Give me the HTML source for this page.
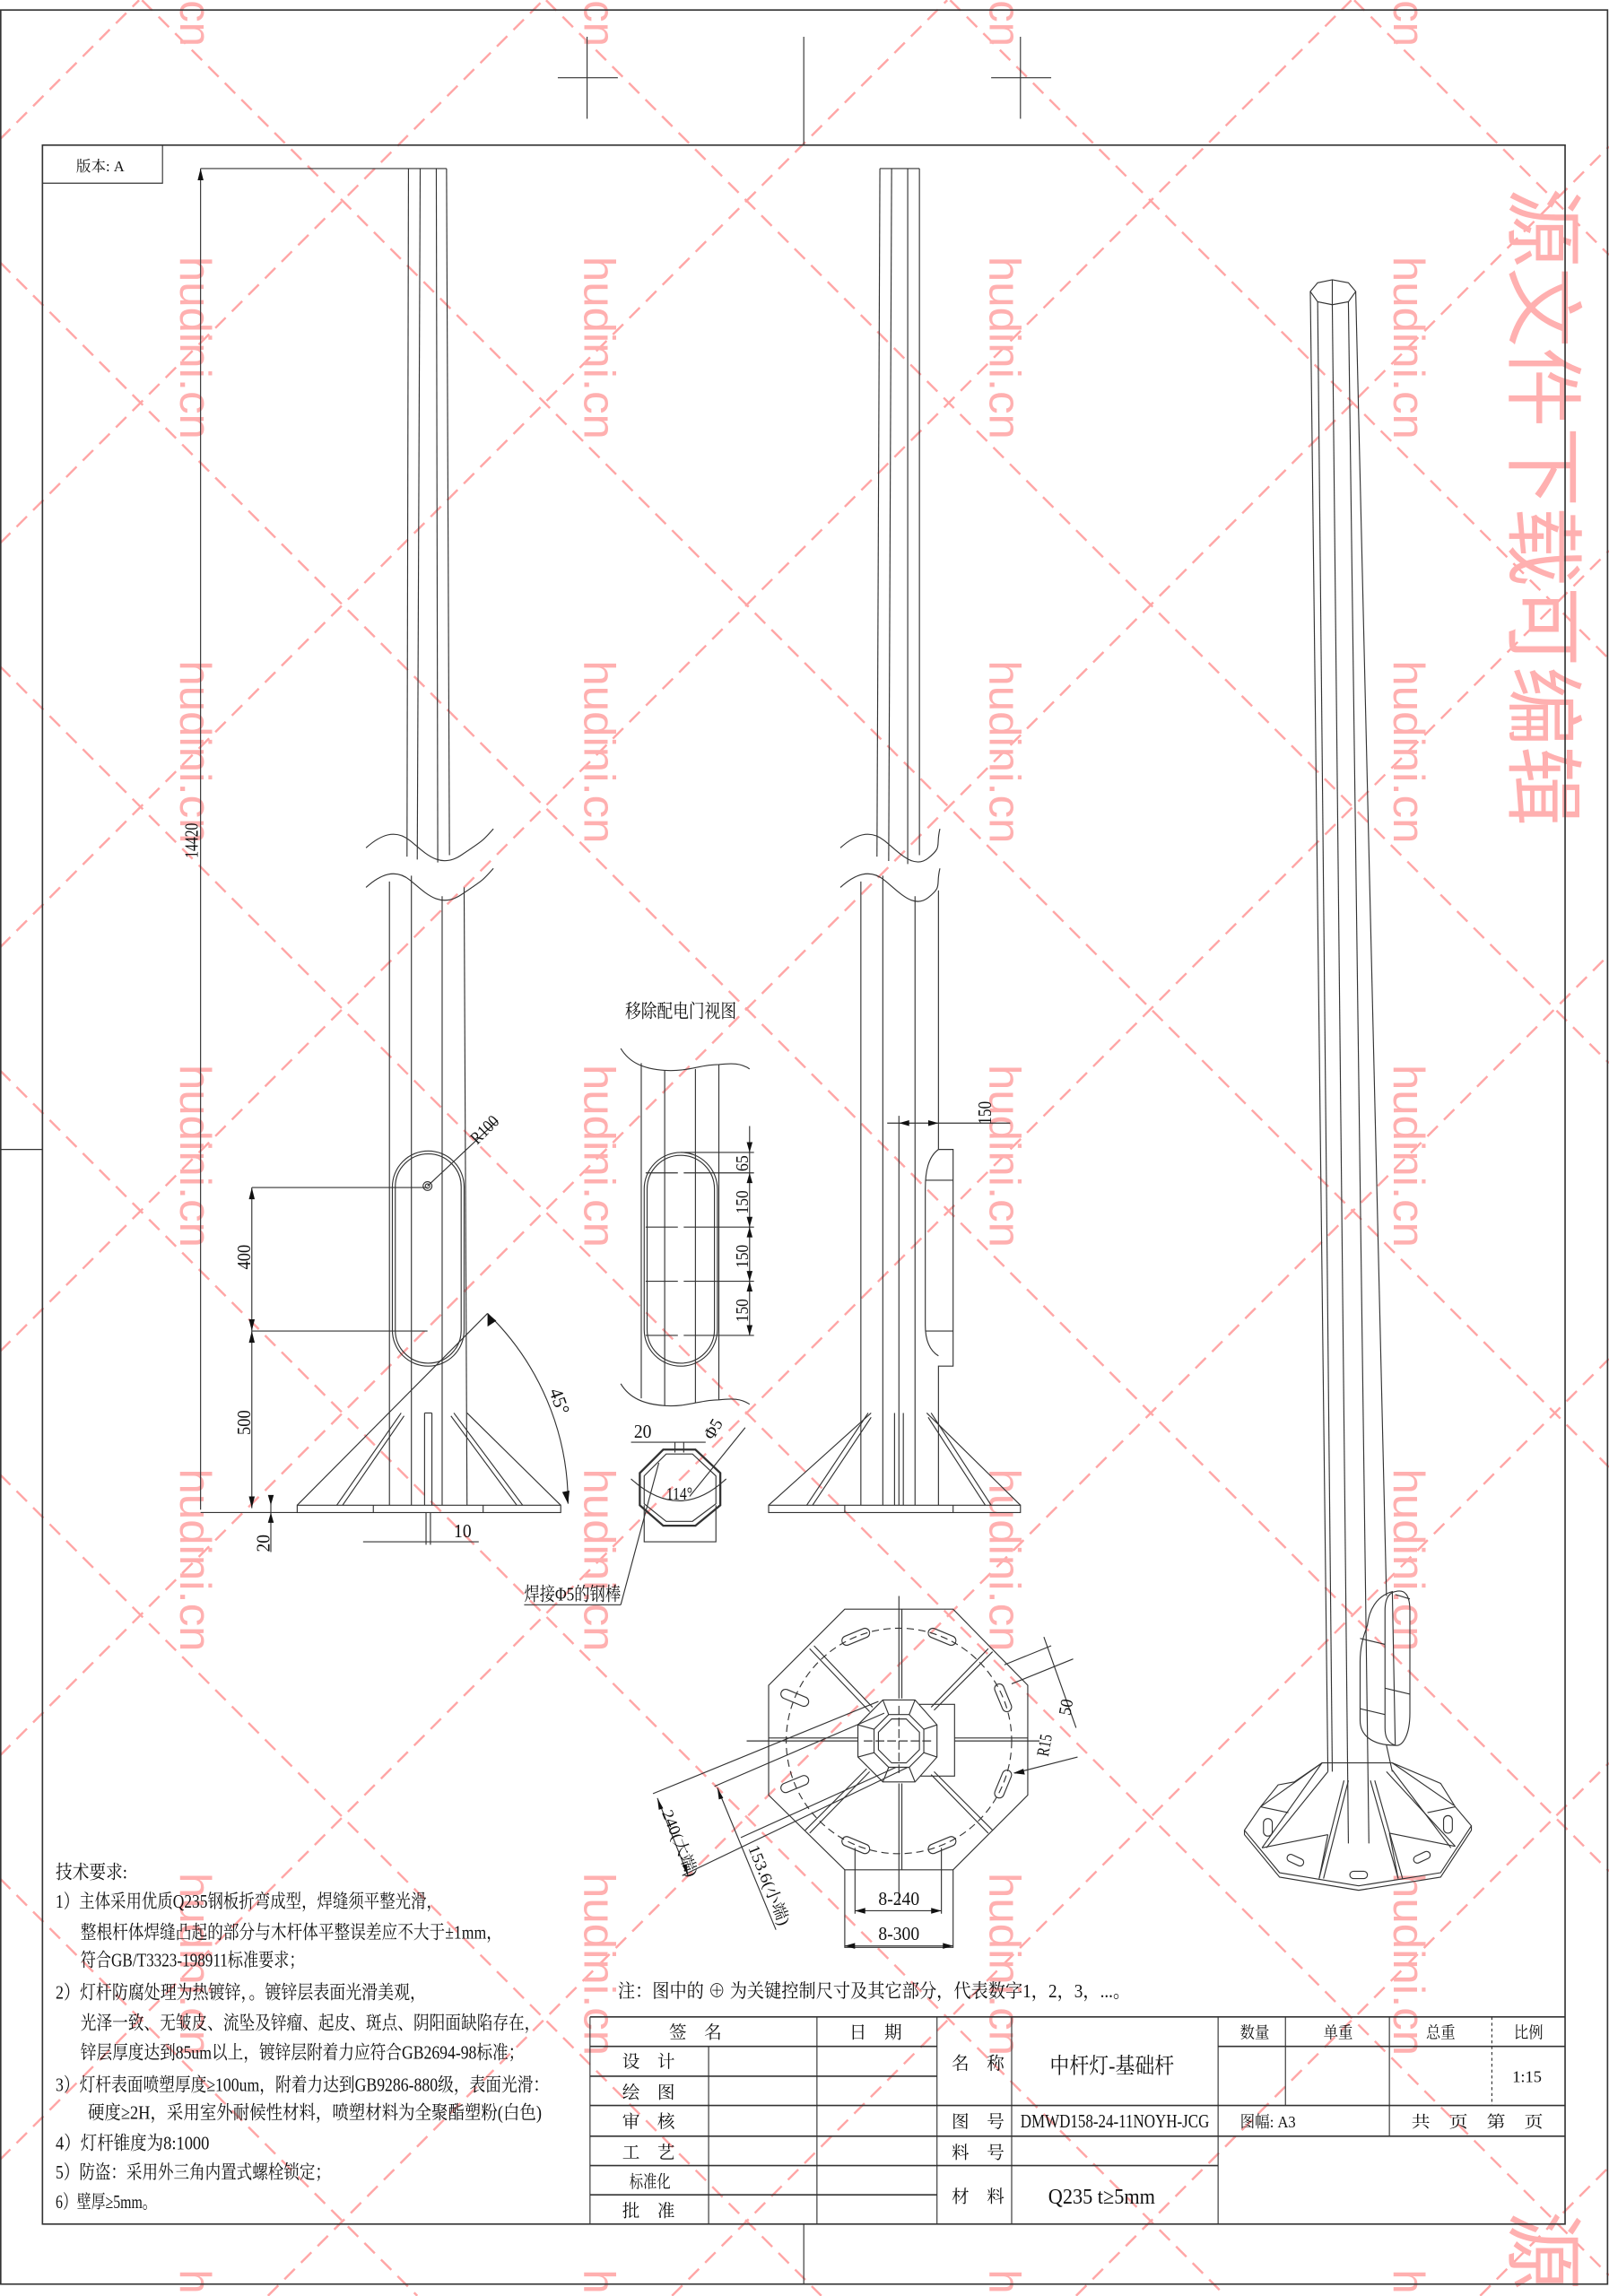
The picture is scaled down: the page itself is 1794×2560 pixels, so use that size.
<!DOCTYPE html>
<html><head><meta charset="utf-8"><style>
html,body{margin:0;padding:0;background:#fff;width:1794px;height:2560px;overflow:hidden;}
svg{display:block;}
.l{stroke:#333;stroke-width:0.7;fill:none;}
.t{font-family:"Liberation Serif","Noto Serif CJK SC",serif;fill:#111;}
.wm{stroke:#ffa6a6;stroke-width:1.5;stroke-dasharray:10 6;fill:none;}
.wt{font-family:"Liberation Sans",sans-serif;fill:#ffb0b0;font-size:30px;}
.bw{font-family:"Liberation Sans","Noto Sans CJK SC",sans-serif;fill:#ffb0b0;font-size:54px;}
</style></head><body>
<svg width="1794" height="2560" viewBox="0 0 1099 1568" xmlns="http://www.w3.org/2000/svg">
<rect width="1099" height="1568" fill="#fff"/>
<g class="wm">
<line x1="925" y1="0" x2="1099" y2="174"/><line x1="649" y1="0" x2="1099" y2="450"/><line x1="373" y1="0" x2="1099" y2="726"/><line x1="97" y1="0" x2="1099" y2="1002"/><line x1="0" y1="179" x2="1099" y2="1278"/><line x1="0" y1="455" x2="1099" y2="1554"/><line x1="0" y1="731" x2="837" y2="1568"/><line x1="0" y1="1007" x2="561" y2="1568"/><line x1="0" y1="1283" x2="285" y2="1568"/>
<line x1="0" y1="95" x2="95" y2="0"/><line x1="0" y1="371" x2="371" y2="0"/><line x1="0" y1="647" x2="647" y2="0"/><line x1="0" y1="923" x2="923" y2="0"/><line x1="0" y1="1199" x2="1099" y2="100"/><line x1="0" y1="1475" x2="1099" y2="376"/><line x1="183" y1="1568" x2="1099" y2="652"/><line x1="459" y1="1568" x2="1099" y2="928"/><line x1="735" y1="1568" x2="1099" y2="1204"/><line x1="1011" y1="1568" x2="1099" y2="1480"/>
</g>
<g class="wt">
<text transform="translate(123,0) rotate(90)">cn</text>
<text transform="translate(123,175) rotate(90)" textLength="125" lengthAdjust="spacingAndGlyphs">hudini.cn</text>
<text transform="translate(123,451) rotate(90)" textLength="125" lengthAdjust="spacingAndGlyphs">hudini.cn</text>
<text transform="translate(123,727) rotate(90)" textLength="125" lengthAdjust="spacingAndGlyphs">hudini.cn</text>
<text transform="translate(123,1003) rotate(90)" textLength="125" lengthAdjust="spacingAndGlyphs">hudini.cn</text>
<text transform="translate(123,1279) rotate(90)" textLength="125" lengthAdjust="spacingAndGlyphs">hudini.cn</text>
<text transform="translate(123,1550) rotate(90)">h</text>
<text transform="translate(399,0) rotate(90)">cn</text>
<text transform="translate(399,175) rotate(90)" textLength="125" lengthAdjust="spacingAndGlyphs">hudini.cn</text>
<text transform="translate(399,451) rotate(90)" textLength="125" lengthAdjust="spacingAndGlyphs">hudini.cn</text>
<text transform="translate(399,727) rotate(90)" textLength="125" lengthAdjust="spacingAndGlyphs">hudini.cn</text>
<text transform="translate(399,1003) rotate(90)" textLength="125" lengthAdjust="spacingAndGlyphs">hudini.cn</text>
<text transform="translate(399,1279) rotate(90)" textLength="125" lengthAdjust="spacingAndGlyphs">hudini.cn</text>
<text transform="translate(399,1550) rotate(90)">h</text>
<text transform="translate(676,0) rotate(90)">cn</text>
<text transform="translate(676,175) rotate(90)" textLength="125" lengthAdjust="spacingAndGlyphs">hudini.cn</text>
<text transform="translate(676,451) rotate(90)" textLength="125" lengthAdjust="spacingAndGlyphs">hudini.cn</text>
<text transform="translate(676,727) rotate(90)" textLength="125" lengthAdjust="spacingAndGlyphs">hudini.cn</text>
<text transform="translate(676,1003) rotate(90)" textLength="125" lengthAdjust="spacingAndGlyphs">hudini.cn</text>
<text transform="translate(676,1279) rotate(90)" textLength="125" lengthAdjust="spacingAndGlyphs">hudini.cn</text>
<text transform="translate(676,1550) rotate(90)">h</text>
<text transform="translate(952,0) rotate(90)">cn</text>
<text transform="translate(952,175) rotate(90)" textLength="125" lengthAdjust="spacingAndGlyphs">hudini.cn</text>
<text transform="translate(952,451) rotate(90)" textLength="125" lengthAdjust="spacingAndGlyphs">hudini.cn</text>
<text transform="translate(952,727) rotate(90)" textLength="125" lengthAdjust="spacingAndGlyphs">hudini.cn</text>
<text transform="translate(952,1003) rotate(90)" textLength="125" lengthAdjust="spacingAndGlyphs">hudini.cn</text>
<text transform="translate(952,1279) rotate(90)" textLength="125" lengthAdjust="spacingAndGlyphs">hudini.cn</text>
<text transform="translate(952,1550) rotate(90)">h</text>
</g>
<text class="bw" transform="translate(1035,128) rotate(90)" textLength="436" lengthAdjust="spacingAndGlyphs">源文件下载可编辑</text>
<text class="bw" transform="translate(1035,1510) rotate(90)">源</text>

<g class="l">
<rect x="0.5" y="6.7" width="1097.5" height="1553.3" stroke-width="1"/>
<rect x="29" y="99" width="1040" height="1420" stroke-width="1"/>
<line x1="0" y1="785" x2="29" y2="785"/>
<line x1="549" y1="1519" x2="549" y2="1560"/>
<line x1="549" y1="25" x2="549" y2="99"/>
<line x1="401" y1="25" x2="401" y2="81"/><line x1="381" y1="53" x2="422" y2="53"/>
<line x1="697" y1="25" x2="697" y2="81"/><line x1="677" y1="53" x2="718" y2="53"/>
<polyline points="29,125 111,125 111,99"/>
</g>
<text class="t" x="52" y="117" font-size="10" textLength="33" lengthAdjust="spacingAndGlyphs">版本: A</text>

<g class="l">
<line x1="137" y1="115" x2="305" y2="115"/>
<line x1="137" y1="115" x2="137" y2="1031"/>
<line x1="279" y1="115" x2="278" y2="585"/><line x1="287" y1="115" x2="285" y2="587"/><line x1="298" y1="115" x2="299" y2="589"/><line x1="305" y1="115" x2="307" y2="584"/>
<path d="M250 579 C260 570 270 566 280 574 S300 594 315 584 S330 574 337 566"/>
<path d="M250 606 C260 597 270 593 280 601 S300 621 315 611 S330 601 337 593"/>
<line x1="266" y1="602" x2="266" y2="1028"/><line x1="281" y1="598" x2="281" y2="1028"/><line x1="302" y1="612" x2="302" y2="1028"/><line x1="317" y1="606" x2="319" y2="1028"/>
<rect x="268" y="786" width="49" height="147" rx="24.5"/>
<rect x="270" y="788" width="45" height="143" rx="22.5"/>
<circle cx="292" cy="810" r="3"/><circle cx="292" cy="810" r="1.5"/>
<line x1="292" y1="810" x2="340" y2="765"/>
<line x1="172" y1="811" x2="292" y2="811"/><line x1="172" y1="909" x2="292" y2="909"/>
<line x1="172" y1="811" x2="172" y2="1030"/>
<line x1="185" y1="1022" x2="185" y2="1060"/>
<rect x="203" y="1028" width="180" height="5"/>
<line x1="137" y1="1033" x2="203" y2="1033"/>
<line x1="255" y1="1028" x2="255" y2="1033"/><line x1="330" y1="1028" x2="330" y2="1033"/>
<line x1="203" y1="1028" x2="333" y2="897"/>
<line x1="230" y1="1028" x2="274" y2="965"/><line x1="234" y1="1028" x2="276" y2="967"/>
<line x1="383" y1="1028" x2="319" y2="965"/>
<line x1="357" y1="1028" x2="310" y2="965"/><line x1="353" y1="1028" x2="308" y2="967"/>
<line x1="290" y1="965" x2="290" y2="1028"/><line x1="295" y1="965" x2="295" y2="1028"/><line x1="290" y1="965" x2="295" y2="965"/>
<line x1="291" y1="1033" x2="291" y2="1055"/><line x1="294" y1="1033" x2="294" y2="1055"/>
<line x1="248" y1="1053" x2="327" y2="1053"/>
<path d="M333 897 A181 181 0 0 1 388 1027"/>
</g>
<g class="t">
<path d="M137 115 l-2 8 h4z M172 811 l-2 8 h4z M172 909 l-2 -8 h4z M172 909 l-2 8 h4z M172 1030 l-2 -8 h4z M185 1028 l-2 -7 h4z M185 1033 l-2 7 h4z M333 897 l0 9 l6 -4z M388 1027 l-4 -8 l5 -1z"/>
<text transform="translate(135,586) rotate(-90)" font-size="13" textLength="24" lengthAdjust="spacingAndGlyphs">14420</text>
<text transform="translate(171,867) rotate(-90)" font-size="13" textLength="17" lengthAdjust="spacingAndGlyphs">400</text>
<text transform="translate(171,980) rotate(-90)" font-size="13" textLength="17" lengthAdjust="spacingAndGlyphs">500</text>
<text transform="translate(184,1060) rotate(-90)" font-size="13" textLength="12" lengthAdjust="spacingAndGlyphs">20</text>
<text x="310" y="1050" font-size="13" textLength="12" lengthAdjust="spacingAndGlyphs">10</text>
<text transform="translate(326,782) rotate(-45)" font-size="12" textLength="22" lengthAdjust="spacingAndGlyphs">R100</text>
<text transform="translate(375,950) rotate(70)" font-size="13" textLength="18" lengthAdjust="spacingAndGlyphs">45°</text>
</g>

<g class="l">
<line x1="601" y1="115" x2="628" y2="115"/>
<line x1="601" y1="115" x2="599" y2="585"/><line x1="609" y1="115" x2="607" y2="588"/><line x1="620" y1="115" x2="620" y2="590"/><line x1="628" y1="115" x2="628" y2="584"/>
<path d="M574 579 C584 570 594 566 604 574 S624 594 634 586 S639 578 642 566"/>
<path d="M574 606 C584 597 594 593 604 601 S624 621 634 613 S639 605 642 593"/>
<line x1="588" y1="602" x2="588" y2="1028"/><line x1="603" y1="598" x2="603" y2="1028"/><line x1="625" y1="612" x2="625" y2="1028"/><line x1="641" y1="608" x2="641" y2="785"/>
<line x1="614" y1="762" x2="614" y2="1028"/>
<path d="M641 785 H651 V933 H641 V1028"/>
<path d="M641 785 C634 790 632 800 632 812 V905 C632 917 636 923 641 926"/>
<line x1="632" y1="806" x2="651" y2="806"/><line x1="632" y1="909" x2="651" y2="909"/>
<line x1="606" y1="767" x2="690" y2="767"/>
<rect x="525" y="1028" width="172" height="5"/>
<line x1="577" y1="1028" x2="577" y2="1033"/><line x1="651" y1="1028" x2="651" y2="1033"/>
<line x1="525" y1="1028" x2="595" y2="965"/>
<line x1="551" y1="1028" x2="593" y2="965"/><line x1="555" y1="1028" x2="595" y2="968"/>
<line x1="697" y1="1028" x2="633" y2="965"/>
<line x1="677" y1="1028" x2="636" y2="965"/><line x1="673" y1="1028" x2="634" y2="968"/>
<line x1="611" y1="965" x2="611" y2="1028"/><line x1="617" y1="965" x2="617" y2="1028"/>
</g>
<g class="t">
<path d="M614 767 l7 -2 v4z M641 767 l-7 -2 v4z"/>
<text transform="translate(677,768) rotate(-90)" font-size="13" textLength="16" lengthAdjust="spacingAndGlyphs">150</text>
</g>

<text class="t" x="427" y="695" font-size="13" textLength="76" lengthAdjust="spacingAndGlyphs">移除配电门视图</text>
<g class="l">
<path d="M424 716 C430 726 440 730 454 731 C470 732 478 727 491 727 C500 726 506 726 512 730"/>
<path d="M424 945 C430 955 440 959 454 960 C470 961 478 956 491 956 C500 955 506 955 512 959"/>
<line x1="438" y1="726" x2="438" y2="955"/><line x1="454" y1="731" x2="454" y2="960"/><line x1="475" y1="730" x2="475" y2="958"/><line x1="491" y1="727" x2="491" y2="956"/>
<rect x="440" y="787" width="50" height="146" rx="25"/>
<rect x="442" y="789" width="46" height="142" rx="23"/>
<line x1="441" y1="801" x2="463" y2="801"/><line x1="467" y1="801" x2="489" y2="801"/>
<line x1="441" y1="838" x2="463" y2="838"/><line x1="467" y1="838" x2="489" y2="838"/>
<line x1="441" y1="875" x2="463" y2="875"/><line x1="467" y1="875" x2="489" y2="875"/>
<line x1="441" y1="912" x2="463" y2="912"/><line x1="467" y1="912" x2="489" y2="912"/>
<line x1="465" y1="787" x2="515" y2="787"/><line x1="489" y1="801" x2="515" y2="801"/><line x1="489" y1="838" x2="515" y2="838"/><line x1="489" y1="875" x2="515" y2="875"/><line x1="489" y1="912" x2="515" y2="912"/>
<line x1="512" y1="769" x2="512" y2="912"/>
</g>
<g class="t">
<path d="M512 787 l-2 -7 h4z M512 801 l-2 7 h4z M512 838 l-2 -7 h4z M512 838 l-2 7 h4z M512 875 l-2 -7 h4z M512 875 l-2 7 h4z M512 912 l-2 -7 h4z"/>
<text transform="translate(511,800) rotate(-90)" font-size="12" textLength="11" lengthAdjust="spacingAndGlyphs">65</text>
<text transform="translate(511,829) rotate(-90)" font-size="12" textLength="16" lengthAdjust="spacingAndGlyphs">150</text>
<text transform="translate(511,866) rotate(-90)" font-size="12" textLength="16" lengthAdjust="spacingAndGlyphs">150</text>
<text transform="translate(511,903) rotate(-90)" font-size="12" textLength="16" lengthAdjust="spacingAndGlyphs">150</text>
</g>

<g class="l">
<polygon points="453,990 475,990 492,1006 492,1028 475,1042 453,1042 437,1028 437,1006" stroke-width="1.4"/>
<polygon points="455,993 473,993 489,1008 489,1027 473,1039 455,1039 440,1027 440,1008"/>
<polyline points="440,1028 440,1053 489,1053 489,1028"/>
<line x1="431" y1="985" x2="482" y2="985"/>
<line x1="461" y1="985" x2="461" y2="992"/><line x1="467" y1="985" x2="467" y2="992"/>
<path d="M431 1010 Q464 1040 496 1010"/>
<line x1="471" y1="1022" x2="509" y2="975"/>
<line x1="450" y1="999" x2="424" y2="1096"/>
<line x1="358" y1="1096" x2="424" y2="1096"/>
</g>
<g class="t">
<text x="433" y="982" font-size="13" textLength="12" lengthAdjust="spacingAndGlyphs">20</text>
<text transform="translate(487,984) rotate(-60)" font-size="12" textLength="14" lengthAdjust="spacingAndGlyphs">Φ5</text>
<text x="455" y="1024" font-size="12" textLength="18" lengthAdjust="spacingAndGlyphs">114°</text>
<text x="358" y="1093" font-size="13" textLength="66" lengthAdjust="spacingAndGlyphs">焊接Φ5的钢棒</text>
</g>

<g class="l">
<polygon points="577,1099 651,1099 702,1151 702,1226 651,1277 577,1277 525,1226 525,1151"/>
<circle cx="614" cy="1189" r="77" stroke-dasharray="5 3"/>
<line x1="614" y1="1090" x2="614" y2="1160"/><line x1="616" y1="1099" x2="616" y2="1160"/>
<line x1="614" y1="1218" x2="614" y2="1300"/><line x1="616" y1="1218" x2="616" y2="1277"/>
<line x1="510" y1="1189" x2="586" y2="1189"/><line x1="525" y1="1187" x2="586" y2="1187"/>
<line x1="652" y1="1189" x2="710" y2="1189"/><line x1="652" y1="1187" x2="702" y2="1187"/>
<line x1="553" y1="1126" x2="594" y2="1169"/><line x1="556" y1="1124" x2="596" y2="1166"/>
<line x1="675" y1="1126" x2="636" y2="1166"/><line x1="678" y1="1128" x2="638" y2="1168"/>
<line x1="553" y1="1252" x2="594" y2="1210"/><line x1="550" y1="1250" x2="592" y2="1208"/>
<line x1="675" y1="1252" x2="636" y2="1212"/><line x1="678" y1="1250" x2="638" y2="1210"/>
<rect x="626" y="1164" width="26" height="49"/>
<polygon points="603,1161 625,1161 640,1178 640,1200 625,1217 603,1217 586,1200 586,1178" fill="#fff"/>
<polygon points="607,1171 621,1171 631,1181 631,1197 621,1207 607,1207 597,1197 597,1181"/>
<polygon points="609,1174 619,1174 628,1183 628,1195 619,1204 609,1204 600,1195 600,1183"/>
<line x1="603" y1="1161" x2="607" y2="1171"/><line x1="625" y1="1161" x2="621" y2="1171"/><line x1="640" y1="1178" x2="631" y2="1181"/><line x1="640" y1="1200" x2="631" y2="1197"/><line x1="625" y1="1217" x2="621" y2="1207"/><line x1="603" y1="1217" x2="607" y2="1207"/><line x1="586" y1="1200" x2="597" y2="1197"/><line x1="586" y1="1178" x2="597" y2="1181"/>
<line x1="590" y1="1189" x2="638" y2="1189" stroke-dasharray="6 2"/>
<line x1="614" y1="1165" x2="614" y2="1213" stroke-dasharray="6 2"/>
<g transform="translate(614,1189)">
<rect x="-10" y="-3.2" width="20" height="6.4" rx="3.2" transform="rotate(-112.5) translate(0,-77) rotate(90)"/>
<rect x="-10" y="-3.2" width="20" height="6.4" rx="3.2" transform="rotate(-67.5) translate(0,-77) rotate(90)" />
<rect x="-10" y="-3.2" width="20" height="6.4" rx="3.2" transform="rotate(-22.5) translate(0,-77)"/>
<rect x="-10" y="-3.2" width="20" height="6.4" rx="3.2" transform="rotate(22.5) translate(0,-77)"/>
<rect x="-10" y="-3.2" width="20" height="6.4" rx="3.2" transform="rotate(67.5) translate(0,-77)"/>
<rect x="-10" y="-3.2" width="20" height="6.4" rx="3.2" transform="rotate(112.5) translate(0,-77)"/>
<rect x="-10" y="-3.2" width="20" height="6.4" rx="3.2" transform="rotate(157.5) translate(0,-77)"/>
<rect x="-10" y="-3.2" width="20" height="6.4" rx="3.2" transform="rotate(-157.5) translate(0,-77)"/>
</g>
<line x1="600" y1="1162" x2="446" y2="1225"/><line x1="620" y1="1207" x2="466" y2="1281"/>
<line x1="449" y1="1228" x2="470" y2="1281"/>
<line x1="604" y1="1170" x2="488" y2="1220"/><line x1="612" y1="1207" x2="506" y2="1255"/>
<line x1="490" y1="1221" x2="530" y2="1318"/>
<line x1="686" y1="1137" x2="718" y2="1124"/><line x1="691" y1="1150" x2="733" y2="1133"/>
<line x1="713" y1="1118" x2="735" y2="1180"/>
<line x1="693" y1="1211" x2="736" y2="1200"/>
<polyline points="577,1277 577,1330 651,1330 651,1277"/>
<line x1="584" y1="1262" x2="584" y2="1307"/><line x1="643" y1="1262" x2="643" y2="1307"/>
<line x1="584" y1="1305" x2="643" y2="1305"/><line x1="577" y1="1329" x2="651" y2="1329"/>
</g>
<g class="t">
<path d="M584 1305 l7 -2 v4z M643 1305 l-7 -2 v4z M577 1329 l7 -2 v4z M651 1329 l-7 -2 v4z M692 1211 l7 -3 l1 4z M449 1228 l1 8 l3 -1z M470 1281 l-1 -8 l-3 1z M490 1221 l1 8 l3 -1z"/>
<text x="600" y="1301" font-size="13" textLength="28" lengthAdjust="spacingAndGlyphs">8-240</text>
<text x="600" y="1325" font-size="13" textLength="28" lengthAdjust="spacingAndGlyphs">8-300</text>
<text transform="translate(731,1172) rotate(-80)" font-size="12" textLength="11" lengthAdjust="spacingAndGlyphs">50</text>
<text transform="translate(716,1200) rotate(-80)" font-size="12" textLength="15" lengthAdjust="spacingAndGlyphs">R15</text>
<text transform="translate(452,1238) rotate(68)" font-size="11" textLength="48" lengthAdjust="spacingAndGlyphs">240(大端)</text>
<text transform="translate(511,1262) rotate(68)" font-size="11" textLength="58" lengthAdjust="spacingAndGlyphs">153.6(小端)</text>
</g>

<g class="l">
<path d="M895 199 L900 193 L910 191 L921 193 L926 199 L921 206 L910 208 L900 206 Z"/>
<line x1="895" y1="199" x2="907" y2="1210"/><line x1="900" y1="206" x2="910" y2="1210"/>
<line x1="910" y1="191" x2="910" y2="208"/>
<line x1="910" y1="208" x2="921" y2="1259"/><line x1="921" y1="206" x2="935" y2="1259"/>
<line x1="926" y1="199" x2="947" y2="1090"/><line x1="947" y1="1192" x2="951" y2="1210"/>
<path d="M951 1087 C940 1090 935 1100 934 1110 C931 1118 929 1125 929 1135 V1175 C929 1185 937 1192 953 1192 Z"/>
<path d="M953 1087 C960 1085 963 1090 963 1100 V1170 C963 1185 958 1193 953 1192 C947 1190 946 1185 946 1180 V1100 C946 1093 948 1088 953 1087 Z"/>
<line x1="929" y1="1119" x2="946" y2="1123"/><line x1="929" y1="1167" x2="946" y2="1171"/>
<line x1="953" y1="1089" x2="963" y2="1092"/><line x1="946" y1="1153" x2="963" y2="1157"/>
<polygon points="850,1250 861,1234 873,1219 884,1217 903,1204 951,1204 984,1218 994,1234 1005,1247 984,1279 928,1288 874,1279"/>
<polyline points="850,1250 850,1253 874,1282 928,1291 984,1282 1005,1250 1005,1247"/>
<line x1="861" y1="1234" x2="903" y2="1204"/><line x1="903" y1="1204" x2="862" y2="1262"/><line x1="907" y1="1210" x2="865" y2="1262"/>
<line x1="918" y1="1216" x2="901" y2="1283"/><line x1="921" y1="1216" x2="904" y2="1283"/>
<line x1="936" y1="1216" x2="955" y2="1283"/><line x1="939" y1="1216" x2="958" y2="1283"/>
<line x1="947" y1="1210" x2="994" y2="1261"/><line x1="951" y1="1204" x2="993" y2="1233"/><line x1="951" y1="1209" x2="991" y2="1262"/>
<line x1="862" y1="1262" x2="907" y2="1253"/><line x1="949" y1="1252" x2="994" y2="1261"/>
<line x1="861" y1="1234" x2="880" y2="1238"/><line x1="994" y1="1234" x2="975" y2="1238"/>
<line x1="907" y1="1253" x2="901" y2="1283"/><line x1="949" y1="1252" x2="955" y2="1283"/>
<rect x="863" y="1242" width="6" height="12" rx="3"/>
<rect x="986" y="1240" width="6" height="12" rx="3"/>
<rect x="879" y="1268" width="12" height="5" rx="2.5" transform="rotate(25 885 1270)"/>
<rect x="922" y="1278" width="12" height="5" rx="2.5"/>
<rect x="965" y="1266" width="12" height="5" rx="2.5" transform="rotate(-25 971 1268)"/>
</g>

<text class="t" x="422" y="1364" font-size="13" textLength="350" lengthAdjust="spacingAndGlyphs">注：图中的 ⊕ 为关键控制尺寸及其它部分，代表数字1，2，3，...。</text>

<g class="t" font-size="13">
<text x="38" y="1283" textLength="49" lengthAdjust="spacingAndGlyphs">技术要求:</text>
<text x="38" y="1303" textLength="264" lengthAdjust="spacingAndGlyphs">1）主体采用优质Q235钢板折弯成型，焊缝须平整光滑，</text>
<text x="55" y="1324" textLength="288" lengthAdjust="spacingAndGlyphs">整根杆体焊缝凸起的部分与木杆体平整误差应不大于±1mm，</text>
<text x="55" y="1343" textLength="153" lengthAdjust="spacingAndGlyphs">符合GB/T3323-198911标准要求；</text>
<text x="38" y="1365" textLength="253" lengthAdjust="spacingAndGlyphs">2）灯杆防腐处理为热镀锌，。镀锌层表面光滑美观，</text>
<text x="55" y="1386" textLength="314" lengthAdjust="spacingAndGlyphs">光泽一致、无皱皮、流坠及锌瘤、起皮、斑点、阴阳面缺陷存在，</text>
<text x="55" y="1406" textLength="303" lengthAdjust="spacingAndGlyphs">锌层厚度达到85um以上，镀锌层附着力应符合GB2694-98标准；</text>
<text x="38" y="1428" textLength="337" lengthAdjust="spacingAndGlyphs">3）灯杆表面喷塑厚度≥100um，附着力达到GB9286-880级，表面光滑：</text>
<text x="60" y="1447" textLength="310" lengthAdjust="spacingAndGlyphs">硬度≥2H，采用室外耐候性材料，喷塑材料为全聚酯塑粉(白色)</text>
<text x="38" y="1468" textLength="105" lengthAdjust="spacingAndGlyphs">4）灯杆锥度为8:1000</text>
<text x="38" y="1488" textLength="188" lengthAdjust="spacingAndGlyphs">5）防盗：采用外三角内置式螺栓锁定；</text>
<text x="38" y="1508" textLength="69" lengthAdjust="spacingAndGlyphs">6）壁厚≥5mm。</text>
</g>

<g class="l">
<line x1="403" y1="1377.5" x2="1069" y2="1377.5" stroke-width="1"/>
<line x1="403" y1="1377.5" x2="403" y2="1519"/>
<line x1="484" y1="1397.6" x2="484" y2="1519"/>
<line x1="558" y1="1377.5" x2="558" y2="1519"/>
<line x1="640" y1="1377.5" x2="640" y2="1519"/>
<line x1="691" y1="1377.5" x2="691" y2="1519"/>
<line x1="832" y1="1377.5" x2="832" y2="1519"/>
<line x1="878" y1="1377.5" x2="878" y2="1438"/>
<line x1="949" y1="1377.5" x2="949" y2="1459"/>
<line x1="1019" y1="1377.5" x2="1019" y2="1438" stroke-dasharray="2 2"/>
<line x1="403" y1="1397.6" x2="640" y2="1397.6" stroke-width="1"/>
<line x1="832" y1="1397.6" x2="1069" y2="1397.6" stroke-width="1"/>
<line x1="403" y1="1418" x2="640" y2="1418" stroke-width="1"/>
<line x1="403" y1="1438" x2="1069" y2="1438" stroke-width="1"/>
<line x1="403" y1="1459" x2="832" y2="1459" stroke-width="1"/>
<line x1="832" y1="1459" x2="1069" y2="1459" stroke-width="1"/>
<line x1="403" y1="1479" x2="832" y2="1479" stroke-width="1"/>
<line x1="403" y1="1499" x2="640" y2="1499" stroke-width="1"/>
</g>
<g class="t" font-size="12">
<text x="457" y="1392">签　名</text>
<text x="580" y="1392">日　期</text>
<text x="425" y="1412">设　计</text>
<text x="425" y="1433">绘　图</text>
<text x="425" y="1453">审　核</text>
<text x="425" y="1474">工　艺</text>
<text x="430" y="1494" textLength="28" lengthAdjust="spacingAndGlyphs">标准化</text>
<text x="425" y="1514">批　准</text>
<text x="650" y="1413">名　称</text>
<text x="650" y="1453">图　号</text>
<text x="650" y="1474">料　号</text>
<text x="650" y="1504">材　料</text>
<text x="717" y="1416" font-size="15" textLength="85" lengthAdjust="spacingAndGlyphs">中杆灯-基础杆</text>
<text x="697" y="1453" font-size="13" textLength="129" lengthAdjust="spacingAndGlyphs">DMWD158-24-11NOYH-JCG</text>
<text x="716" y="1505" font-size="15" textLength="73" lengthAdjust="spacingAndGlyphs">Q235 t≥5mm</text>
<text x="847" y="1392" font-size="11" textLength="20" lengthAdjust="spacingAndGlyphs">数量</text>
<text x="904" y="1392" font-size="11" textLength="20" lengthAdjust="spacingAndGlyphs">单重</text>
<text x="974" y="1392" font-size="11" textLength="20" lengthAdjust="spacingAndGlyphs">总重</text>
<text x="1034" y="1392" font-size="11" textLength="20" lengthAdjust="spacingAndGlyphs">比例</text>
<text x="1033" y="1422" font-size="11" textLength="20" lengthAdjust="spacingAndGlyphs">1:15</text>
<text x="847" y="1453" font-size="11" textLength="38" lengthAdjust="spacingAndGlyphs">图幅: A3</text>
<text x="964" y="1453" font-size="11" textLength="90" lengthAdjust="spacingAndGlyphs">共　页　第　页</text>
</g>
</svg>
</body></html>
